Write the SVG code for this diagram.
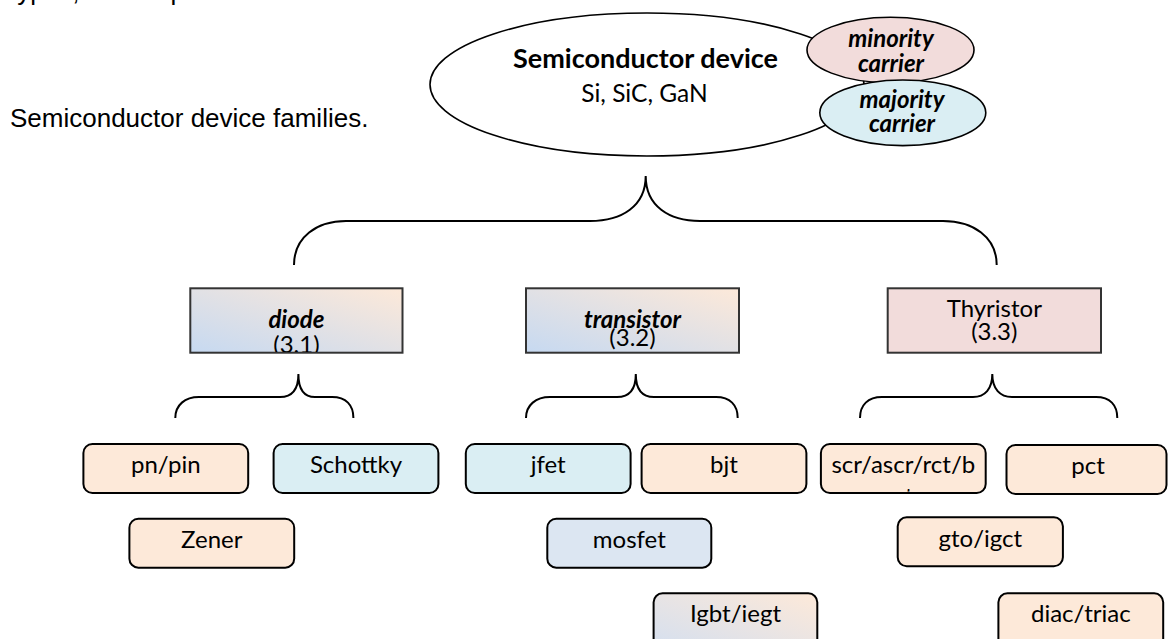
<svg xmlns="http://www.w3.org/2000/svg" width="1168" height="639" viewBox="0 0 1168 639">
<defs>
  <linearGradient id="gBP" x1="0" y1="1" x2="1" y2="0">
    <stop offset="0" stop-color="#c6d9f1"/>
    <stop offset="1" stop-color="#fde9d9"/>
  </linearGradient>
  <linearGradient id="gIgbt" x1="0" y1="1" x2="1" y2="0">
    <stop offset="0" stop-color="#d3dff0"/>
    <stop offset="1" stop-color="#fde9d9"/>
  </linearGradient>
  <clipPath id="clipDiode"><rect x="191" y="289" width="211" height="63"/></clipPath>
  <clipPath id="clipScr"><rect x="822" y="445" width="163" height="46.5"/></clipPath>
</defs>
<style>
  .f{font-family:Lato,'Open Sans',sans-serif;fill:#000}
  .arial{font-family:'Liberation Sans',Arial,sans-serif;fill:#000;font-size:26px}
  .lbl{font-size:24px;text-anchor:middle}
  .bi{font-weight:bold;font-style:italic}
  .box{stroke:#000;stroke-width:2}
  .cat{stroke:#333;stroke-width:2}
  .brace{fill:none;stroke:#000;stroke-width:2}
  .ell{stroke:#000;stroke-width:1.6}
  .peach{fill:#fde9d9}
  .lblue{fill:#daeef3}
  .mblue{fill:#dce6f2}
  .pink{fill:#f2dcdb}
</style>
<rect width="1168" height="639" fill="#fff"/>

<text class="arial" x="10" y="0">types, and its p</text>
<text class="arial" x="10" y="127">Semiconductor device families.</text>

<g id="connectors">
  <path class="brace" d="M294,265 C294,237 317,221 346,221 L590,221 C622,221 645.7,206 645.7,176 C645.7,206 669,221 700,221 L943,221 C973,221 996.7,237 996.7,265"/>
  <path class="brace" d="M175.3,418 C175.3,405 185,397 199,397 L280,397 C292,397 298.4,390 298.4,374 C298.4,390 305,397 315,397 L332,397 C346,397 353.4,405 353.4,418"/>
  <path class="brace" d="M526,418 C526,405 536,397 550,397 L617,397 C629,397 635.8,390 635.8,374 C635.8,390 642,397 654,397 L716,397 C730,397 737.7,405 737.7,418"/>
  <path class="brace" d="M860,418 C860,405 868,397 882,397 L973,397 C985,397 992.3,389 992.3,374 C992.3,389 1000,397 1012,397 L1096,397 C1110,397 1117.3,405 1117.3,418"/>
</g>

<g id="semiconductor">
  <ellipse class="ell" cx="647" cy="84.5" rx="217" ry="71.5" fill="#fff"/>
  <text class="f" x="645.5" y="68" font-size="27" font-weight="bold" text-anchor="middle">Semiconductor device</text>
  <text class="f" x="644.5" y="101.5" font-size="24.5" text-anchor="middle">Si, SiC, GaN</text>
</g>
<g id="minority">
  <ellipse class="ell pink" cx="890.5" cy="50" rx="83.5" ry="32.7"/>
  <text class="f lbl bi" x="891" y="47">minority</text>
  <text class="f lbl bi" x="891" y="72">carrier</text>
</g>
<g id="majority">
  <ellipse class="ell lblue" cx="902.8" cy="112.8" rx="83" ry="32.8"/>
  <text class="f lbl bi" x="902" y="108">majority</text>
  <text class="f lbl bi" x="902" y="132">carrier</text>
</g>

<g id="diode">
  <rect class="cat" x="190.3" y="288.3" width="212.2" height="64.4" fill="url(#gBP)"/>
  <g clip-path="url(#clipDiode)">
    <text class="f lbl bi" x="296.4" y="328">diode</text>
    <text class="f lbl" x="296.4" y="353">(3.1)</text>
  </g>
</g>
<g id="transistor">
  <rect class="cat" x="526" y="288.3" width="213" height="64.4" fill="url(#gBP)"/>
  <text class="f lbl bi" x="632.5" y="328">transistor</text>
  <text class="f lbl" x="632.5" y="345.5">(3.2)</text>
</g>
<g id="thyristor">
  <rect class="cat pink" x="887.7" y="288.3" width="213.3" height="64.4"/>
  <text class="f lbl" x="994.3" y="316.7">Thyristor</text>
  <text class="f lbl" x="994.3" y="340">(3.3)</text>
</g>

<g id="pnpin">
  <rect class="box peach" x="83.4" y="444" width="164.8" height="49" rx="9"/>
  <text class="f lbl" x="165.8" y="472.5">pn/pin</text>
</g>
<g id="schottky">
  <rect class="box lblue" x="273.6" y="444" width="164.8" height="49" rx="9"/>
  <text class="f lbl" x="356" y="472.5">Schottky</text>
</g>
<g id="jfet">
  <rect class="box lblue" x="465.8" y="444" width="164.8" height="49" rx="9"/>
  <text class="f lbl" x="548.2" y="472.5">jfet</text>
</g>
<g id="bjt">
  <rect class="box peach" x="641.6" y="444" width="164.8" height="49" rx="9"/>
  <text class="f lbl" x="724" y="472.5">bjt</text>
</g>
<g id="scr">
  <rect class="box peach" x="820.9" y="444" width="164.8" height="49" rx="9"/>
  <g clip-path="url(#clipScr)">
    <text class="f lbl" x="903.3" y="472.5">scr/ascr/rct/b</text>
    <text class="f lbl" x="903.3" y="505">ct</text>
  </g>
</g>
<g id="pct">
  <rect class="box peach" x="1006.5" y="445" width="160" height="49" rx="9"/>
  <text class="f lbl" x="1088" y="473.5">pct</text>
</g>

<g id="zener">
  <rect class="box peach" x="129.4" y="518.7" width="164.8" height="49" rx="9"/>
  <text class="f lbl" x="211.8" y="548">Zener</text>
</g>
<g id="mosfet">
  <rect class="box mblue" x="547.3" y="518.7" width="164" height="49" rx="9"/>
  <text class="f lbl" x="629.3" y="548">mosfet</text>
</g>
<g id="gto">
  <rect class="box peach" x="897.7" y="517.3" width="165.2" height="49" rx="9"/>
  <text class="f lbl" x="980.3" y="546.7">gto/igct</text>
</g>

<g id="igbt">
  <rect class="box" x="653.6" y="593.3" width="163.7" height="60" rx="9" fill="url(#gIgbt)"/>
  <text class="f lbl" x="735.5" y="622">Igbt/iegt</text>
</g>
<g id="diac">
  <rect class="box peach" x="998.4" y="593.3" width="164.8" height="60" rx="9"/>
  <text class="f lbl" x="1080.8" y="622">diac/triac</text>
</g>
</svg>
